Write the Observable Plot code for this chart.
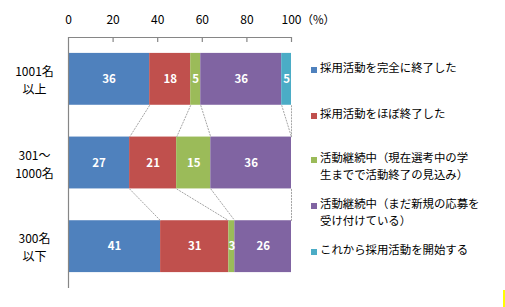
<!DOCTYPE html>
<html>
<head>
<meta charset="utf-8">
<script src="https://cdn.jsdelivr.net/npm/d3@7"></script>
<script src="https://cdn.jsdelivr.net/npm/@observablehq/plot@0.6"></script>
<style>
  html, body { margin: 0; padding: 0; background: #fff; }
  #wrap { position: relative; width: 505px; height: 307px; overflow: hidden; font-family: "Noto Sans CJK JP", sans-serif; }
  #wrap svg { position: absolute; left: 0; top: 0; }
  .leg { position: absolute; left: 320px; font-size: 11.4px; line-height: 17px; color: #000; white-space: pre; }
  .sw { position: absolute; left: 311px; width: 6px; height: 6px; }
  #edge { position: absolute; left: 503px; top: 290px; width: 2px; height: 17px; background: #ffff00; }
</style>
</head>
<body>
<div id="wrap"></div>
<script>
// ---- data ----
const groups = ["1001名\n以上", "301〜\n1000名", "300名\n以下"];
const series = [
  "採用活動を完全に終了した",
  "採用活動をほぼ終了した",
  "活動継続中（現在選考中の学\n生までで活動終了の見込み）",
  "活動継続中（まだ新規の応募を\n受け付けている）",
  "これから採用活動を開始する"
];
const colors = ["#4F81BD", "#C0504D", "#9BBB59", "#8064A2", "#4BACC6"];
// bar widths (%), as measured
const values1001 = [36.4, 18.4, 4.5, 36.3, 4.4];
const values301  = [27.4, 21.1, 15.3, 36.2, 0];
const values300  = [41.3, 30.6, 2.7, 25.4, 0];
// labels shown on bars
const labels1001 = [36, 18, 5, 36, 5];
const labels301  = [27, 21, 15, 36, null];
const labels300  = [41, 31, 3, 26, null];
const xTicks = [0, 20, 40, 60, 80, 100];
const xUnit = "（%）";

// ---- build table ----
const allValues = [values1001, values301, values300];
const allLabels = [labels1001, labels301, labels300];
const barPad = 0.19;
const segs = [];
const ends = []; // cumulative ends per group
allValues.forEach((vals, g) => {
  let c = 0;
  const e = [];
  vals.forEach((v, k) => {
    segs.push({g, k, x1: c, x2: c + v, label: allLabels[g][k], y1: g + barPad, y2: g + 1 - barPad});
    c += v;
    e.push(c);
  });
  ends.push(e);
});
const links = [];
for (let g = 0; g < groups.length - 1; g++) {
  series.forEach((s, k) => {
    links.push({x1: ends[g][k], x2: ends[g + 1][k], y1: g + 1 - barPad, y2: g + 1 + barPad});
  });
}

const axisGray = "#868686";
const chart = Plot.plot({
  width: 505,
  height: 307,
  marginLeft: 68,
  marginRight: 214,
  marginTop: 37,
  marginBottom: 19,
  style: {fontFamily: "'Noto Sans CJK JP', sans-serif", background: "transparent"},
  x: {domain: [0, 100], axis: null},
  y: {domain: [0, 3], reverse: true, axis: null},
  marks: [
    Plot.rect(segs, {x1: "x1", x2: "x2", y1: "y1", y2: "y2", fill: d => colors[d.k]}),
    Plot.link(links, {x1: "x1", x2: "x2", y1: "y1", y2: "y2", stroke: "#a6a6a6", strokeWidth: 1, strokeDasharray: "2,1"}),
    Plot.text(segs.filter(d => d.label != null && d.label !== 0), {
      x: d => (d.x1 + d.x2) / 2, y: d => d.g + 0.5, text: d => String(d.label),
      fill: "white", fontWeight: "bold", fontSize: 11.5
    }),
    Plot.ruleY([0], {stroke: axisGray, strokeWidth: 1.2}),
    Plot.ruleX([0], {stroke: axisGray, strokeWidth: 1.2}),
    Plot.ruleX(xTicks.slice(1), {x: d => d, y1: 0, y2: 0.06, stroke: axisGray, strokeWidth: 1.2}),
    Plot.text(xTicks, {x: d => d, y: 0, dy: -17, text: d => String(d), fontSize: 12, fill: "#000"}),
    Plot.text([xUnit], {x: 100, y: 0, dy: -17, dx: 10, textAnchor: "start", text: d => d, fontSize: 11.5, fill: "#000"}),
    Plot.text(groups, {frameAnchor: "left", dx: -34, y: (d, i) => i + 0.5, text: d => d, textAnchor: "middle", lineHeight: 1.5, fontSize: 12, fill: "#000"})
  ]
});
const wrap = document.getElementById("wrap");
wrap.appendChild(chart);

// legend
const legendTop = [59, 105, 149, 195, 241];
series.forEach((s, k) => {
  const t = document.createElement("div");
  t.className = "leg";
  t.style.top = legendTop[k] + "px";
  t.textContent = s;
  wrap.appendChild(t);
  const sw = document.createElement("div");
  sw.className = "sw";
  sw.style.top = (legendTop[k] + 8) + "px";
  sw.style.background = colors[k];
  wrap.appendChild(sw);
});
const edge = document.createElement("div");
edge.id = "edge";
wrap.appendChild(edge);
</script>
</body>
</html>
